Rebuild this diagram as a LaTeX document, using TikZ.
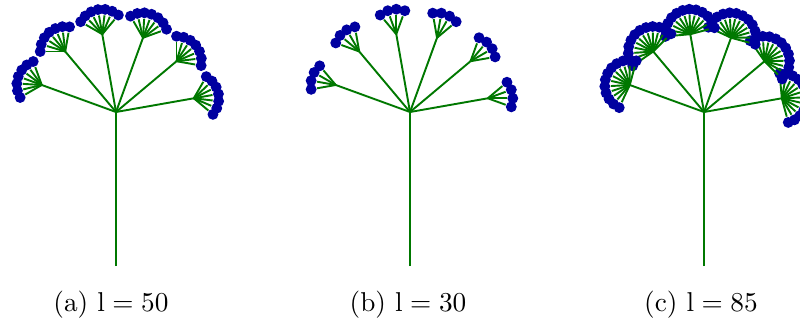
\documentclass[tikz,border=0pt]{standalone}
\usepackage{tikz}
\usetikzlibrary{positioning}
\definecolor{stalk}{RGB}{0,120,0}
\definecolor{seed}{RGB}{0,0,160}

% one umbel: name, x of stalk, half spread of the small fans, seeds per fan
\newcommand{\umbel}[4]{%
  \coordinate (#1-foot) at (#2,54);
  \coordinate (#1-hub) at (#2,208);
  \draw[ray] (#1-foot) -- (#1-hub);
  \foreach \a [count=\i] in {10,40,...,170}{
    \coordinate (#1-r\i) at ([shift={(\a:79)}]#1-hub);
    \draw[ray] (#1-hub) -- (#1-r\i);
    \foreach \k in {1,...,#4}{
      \pgfmathsetmacro{\b}{\a-#3+2*#3*(\k-1)/(#4-1)}
      \node[seeddot] (#1-r\i-s\k) at ([shift={(\b:25)}]#1-r\i) {};
      \draw[ray] (#1-r\i) -- (#1-r\i-s\k);
    }
  }
}

\begin{document}
\begin{tikzpicture}[x=0.3667pt,y=0.3667pt,
 ray/.style={draw=stalk,line width=0.7pt},
 seeddot/.style={circle,fill=seed,inner sep=0pt,minimum size=4pt},
 caption/.style={font=\normalsize,inner sep=0pt}]
\useasboundingbox (0,0) rectangle (800,320);
\umbel{a}{116}{50}{7}
\umbel{b}{410}{30}{4}
\umbel{c}{704}{85}{12}
\node[caption] (a-cap) at (111,15) {(a) $\mathrm{l}=50$};
\node[caption] (b-cap) at (408,15) {(b) $\mathrm{l}=30$};
\node[caption] (c-cap) at (701,15) {(c) $\mathrm{l}=85$};
\end{tikzpicture}
\end{document}
